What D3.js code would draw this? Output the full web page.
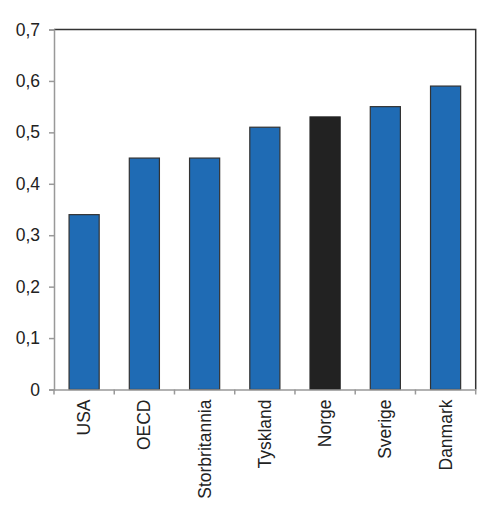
<!DOCTYPE html>
<html><head><meta charset="utf-8">
<script src="https://cdn.jsdelivr.net/npm/d3@7"></script>
<style>body{margin:0;background:#fff}svg{display:block}text{font-family:"Liberation Sans",Arial,sans-serif}</style>
</head><body><div id="chart"></div>
<script>
const categories = ["USA","OECD","Storbritannia","Tyskland","Norge","Sverige","Danmark"];
const values = [0.34,0.45,0.45,0.51,0.53,0.55,0.59];
const highlight = ["Norge"];
const yTicks = [0,0.1,0.2,0.3,0.4,0.5,0.6,0.7];

const W=500,H=520;
const m={left:54,top:29.5,right:24.3,bottom:130.5};
const svg=d3.select("#chart").append("svg").attr("width",W).attr("height",H);
const x=d3.scaleBand().domain(categories).range([m.left,W-m.right]).paddingInner(0.5).paddingOuter(0.25);
const y=d3.scaleLinear().domain([0,0.7]).range([H-m.bottom,m.top]);
const fmt=d=>d===0?"0":d3.format(".1f")(d).replace(".",",");

// frame top/right
svg.append("path").attr("d",`M${m.left},${m.top}H${W-m.right}V${H-m.bottom}`).attr("fill","none").attr("stroke","#333").attr("stroke-width",1.5);

svg.append("g").selectAll("rect").data(categories).join("rect")
 .attr("x",d=>x(d)).attr("width",x.bandwidth())
 .attr("y",(d,i)=>y(values[i])).attr("height",(d,i)=>y(0)-y(values[i]))
 .attr("fill",d=>highlight.includes(d)?"#222":"#1f6bb4")
 .attr("stroke",d=>highlight.includes(d)?"#222":"#333").attr("stroke-width",1.2);

const ya=svg.append("g").attr("transform",`translate(${m.left},0)`)
 .call(d3.axisLeft(y).tickValues(yTicks).tickFormat(fmt).tickSize(5).tickPadding(9));
ya.select(".domain").attr("stroke","#999").attr("stroke-width",1.5);
ya.selectAll(".tick line").attr("stroke","#999").attr("stroke-width",1.5);
ya.selectAll("text").attr("font-size","17.5px").attr("fill","#222");

const xb=d3.scaleBand().domain(categories).range([m.left,W-m.right]);
const xa=svg.append("g").attr("transform",`translate(0,${H-m.bottom})`)
 .call(d3.axisBottom(xb).tickSize(0).tickFormat(""));
xa.select(".domain").attr("stroke","#999").attr("stroke-width",1.5);
const edges=categories.map(c=>xb(c)).concat([W-m.right]);
svg.append("g").selectAll("line").data(edges).join("line")
 .attr("x1",d=>d).attr("x2",d=>d).attr("y1",H-m.bottom).attr("y2",H-m.bottom+5)
 .attr("stroke","#999").attr("stroke-width",1.5);
svg.append("g").selectAll("text").data(categories).join("text")
 .attr("transform",d=>`translate(${xb(d)+xb.bandwidth()/2+6},${H-m.bottom+10}) rotate(-90)`)
 .attr("text-anchor","end").attr("font-size","17.5px").attr("fill","#222").text(d=>d);
</script></body></html>
